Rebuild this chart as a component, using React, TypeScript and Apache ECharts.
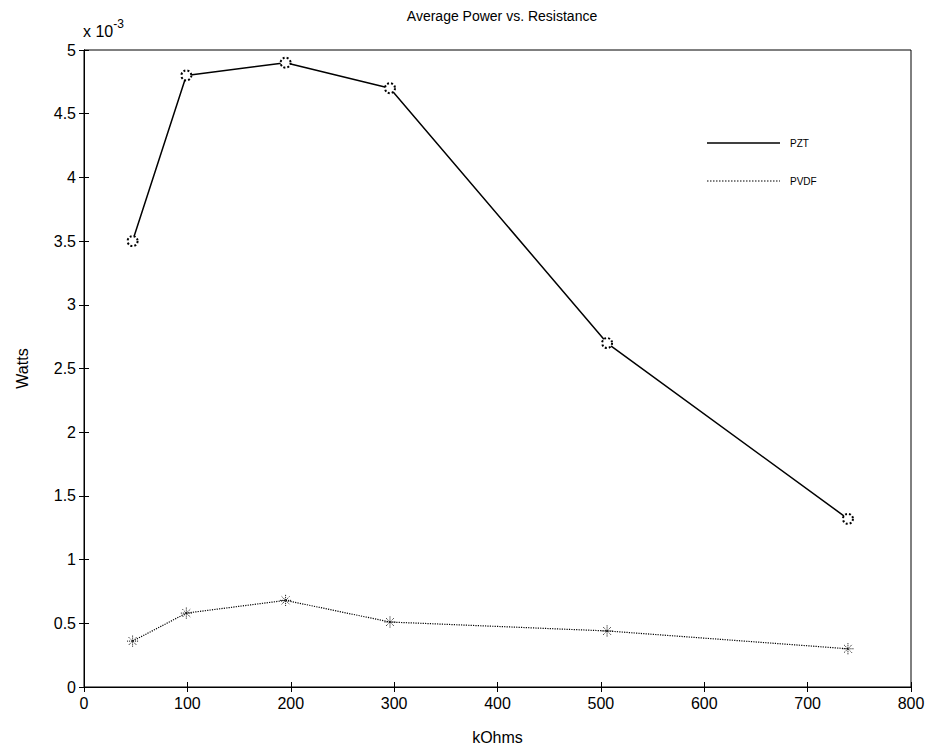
import React, { useEffect, useRef } from "react";
import * as echarts from "echarts";

const resistance = [47, 99, 195, 296, 506, 739];
const pztWatts = [3.5, 4.8, 4.9, 4.7, 2.7, 1.32];
const pvdfWatts = [0.36, 0.58, 0.68, 0.51, 0.44, 0.3];
const seriesNames = ["PZT", "PVDF"];
const titleText = "Average Power vs. Resistance";
const xName = "kOhms";
const yName = "Watts";

const FONT = "Liberation Sans, Arial, sans-serif";

export default function App() {
  const ref = useRef<HTMLDivElement>(null);
  useEffect(() => {
    document.body.style.margin = "0";
    const chart = echarts.init(ref.current!, null, { renderer: "svg" });
    const pzt = resistance.map((x, i) => [x, pztWatts[i]]);
    const pvdf = resistance.map((x, i) => [x, pvdfWatts[i]]);
    const axisLine = { show: true, lineStyle: { color: "#000", width: 1 } };
    const tick = { show: true, inside: true, length: 5, lineStyle: { color: "#000" } };
    chart.setOption({
      animation: false,
      backgroundColor: "#fff",
      textStyle: { fontFamily: FONT },
      title: {
        text: titleText,
        left: 497,
        textAlign: "center",
        top: 4,
        textStyle: { fontSize: 14, fontWeight: "normal", color: "#000", fontFamily: FONT },
      },
      graphic: [
        {
          type: "text",
          left: 83,
          top: 18,
          style: {
            text: "x 10{s|-3}",
            fontSize: 16,
            fontFamily: FONT,
            fill: "#000",
            rich: { s: { fontSize: 12, verticalAlign: "top", padding: [0, 0, 14, 0], fontFamily: FONT } },
          },
        },
        {
          type: "line",
          shape: { x1: 707, y1: 143, x2: 780, y2: 143 },
          style: { stroke: "#000", lineWidth: 1.5 },
        },
        {
          type: "text",
          x: 790,
          y: 143,
          style: { text: seriesNames[0], fontSize: 10, fontFamily: FONT, fill: "#000", verticalAlign: "middle" },
        },
        {
          type: "line",
          shape: { x1: 707, y1: 181, x2: 780, y2: 181 },
          style: { stroke: "#000", lineWidth: 1.2, lineDash: [1.5, 1.5] },
        },
        {
          type: "text",
          x: 790,
          y: 181,
          style: { text: seriesNames[1], fontSize: 10, fontFamily: FONT, fill: "#000", verticalAlign: "middle" },
        },
      ],
      grid: { left: 84, right: 24, top: 50, bottom: 62, show: true, borderColor: "#000", borderWidth: 1 },
      xAxis: [
        {
          type: "value",
          min: 0,
          max: 800,
          interval: 100,
          name: xName,
          nameLocation: "middle",
          nameGap: 42,
          nameTextStyle: { fontSize: 16, color: "#000", fontFamily: FONT },
          axisLine,
          axisTick: tick,
          axisLabel: { fontSize: 16, color: "#000", margin: 8, fontFamily: FONT },
          splitLine: { show: false },
        },
        {
          type: "value",
          position: "top",
          min: 0,
          max: 800,
          interval: 100,
          axisLine,
          axisTick: tick,
          axisLabel: { show: false },
          splitLine: { show: false },
        },
      ],
      yAxis: [
        {
          type: "value",
          min: 0,
          max: 5,
          interval: 0.5,
          name: yName,
          nameLocation: "middle",
          nameGap: 54,
          nameTextStyle: { fontSize: 16, color: "#000", fontFamily: FONT },
          axisLine,
          axisTick: tick,
          axisLabel: { fontSize: 16, color: "#000", margin: 8, fontFamily: FONT },
          splitLine: { show: false },
        },
        {
          type: "value",
          position: "right",
          min: 0,
          max: 5,
          interval: 0.5,
          axisLine,
          axisTick: tick,
          axisLabel: { show: false },
          splitLine: { show: false },
        },
      ],
      series: [
        {
          name: seriesNames[0],
          type: "line",
          data: pzt,
          symbol: "emptyCircle",
          symbolSize: 10,
          lineStyle: { color: "#000", width: 1.5, type: "solid" },
          itemStyle: { color: "#000", borderColor: "#000", borderWidth: 1, borderType: "dotted" },
        },
        {
          name: seriesNames[1],
          type: "line",
          data: pvdf,
          symbol: "path://M0,-5L0,5M-5,0L5,0M-3.5,-3.5L3.5,3.5M-3.5,3.5L3.5,-3.5",
          symbolSize: 11,
          lineStyle: { color: "#000", width: 1.2, type: "dotted" },
          itemStyle: { color: "none", borderColor: "#000", borderWidth: 1, borderType: "dotted" },
        },
      ],
    });
    return () => chart.dispose();
  }, []);
  return <div ref={ref} style={{ width: 935, height: 750 }} />;
}
